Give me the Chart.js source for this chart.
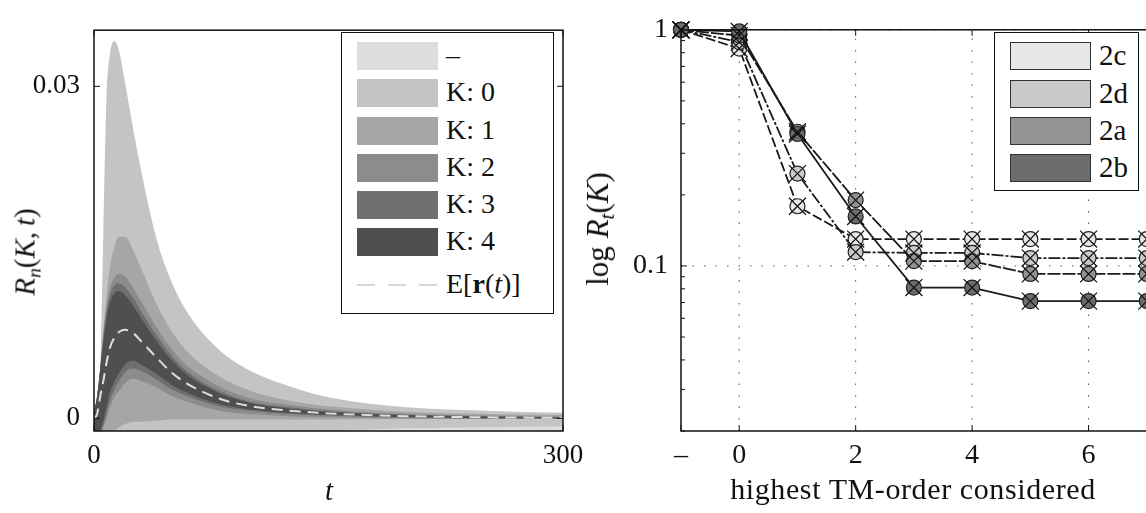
<!DOCTYPE html>
<html>
<head>
<meta charset="utf-8">
<script src="https://cdn.jsdelivr.net/npm/chart.js@4.4.0/dist/chart.umd.min.js"></script>
<style>
html, body { margin: 0; padding: 0; background: #fff; overflow: hidden; width: 1146px; height: 513px; }
body { position: relative; font-family: 'Liberation Serif', serif; color: #111; }
canvas { position: absolute; top: 0; }
#left { left: 0; }
#right { left: 580px; }
.legend { position: absolute; background: #fff; border: 1.5px solid #111; box-sizing: border-box; z-index: 5; }
.sw { position: absolute; height: 28px; box-sizing: border-box; }
.lab { position: absolute; height: 32px; line-height: 32px; font-size: 27px; white-space: nowrap; }
.title { position: absolute; white-space: nowrap; font-size: 27px; transform: translate(-50%, -50%); z-index: 5; }
.rot { transform: translate(-50%, -50%) rotate(-90deg); }
sub { font-size: 0.68em; vertical-align: -0.28em; line-height: 0; }
</style>
</head>
<body>
<canvas id="left" width="600" height="513"></canvas>
<canvas id="right" width="650" height="513"></canvas>

<div class="title rot" style="left:25px; top:252px; font-size:29px;"><i>R</i><sub><i>n</i></sub>(<i>K</i>,&thinsp;<i>t</i>)</div>
<div class="title" style="left:329px; top:490px; font-size:29px;"><i>t</i></div>
<div class="title rot" style="left:598px; top:229px; font-size:31px;">log <i>R</i><sub><i>t</i></sub>(<i>K</i>)</div>
<div class="title" style="left:913px; top:489px; font-size:30px; letter-spacing:0.6px;">highest TM-order considered</div>

<div id="legLeft" class="legend" style="left:341px; top:32px; width:213px; height:282px;"></div>
<div id="legRight" class="legend" style="left:994px; top:32px; width:145px; height:159px;"></div>

<script>
// ---- left panel: R_n(K,t) bands ----
const tValues = [0, 2, 4, 6, 8, 10, 13, 16, 20, 25, 30, 40, 50, 60, 80, 100, 125, 150, 200, 250, 300];
const meanR  = [0, 0.0004, 0.0020, 0.0034, 0.0050, 0.0063, 0.0073, 0.0078, 0.0080, 0.0077, 0.0070, 0.0055, 0.0041, 0.0031, 0.0018, 0.0011, 0.0007, 0.00045, 0.0002, 0.0001, 0.00005];
const outerTop = [0.0006, 0.0020, 0.0045, 0.0170, 0.0290, 0.0327, 0.0341, 0.0332, 0.0302, 0.0262, 0.0225, 0.0162, 0.0122, 0.0095, 0.0062, 0.0043, 0.0029, 0.0019, 0.0010, 0.0007, 0.0005];
const k1Top  = [0.0006, 0.0020, 0.0045, 0.0080, 0.0110, 0.0135, 0.0155, 0.0164, 0.0164, 0.0152, 0.0136, 0.0103, 0.0078, 0.0060, 0.0038, 0.0025, 0.0016, 0.0011, 0.0006, 0.0004, 0.0003];
const k2Top  = [0.0006, 0.0020, 0.0045, 0.0076, 0.0101, 0.0117, 0.0127, 0.0131, 0.0128, 0.0118, 0.0106, 0.0082, 0.0062, 0.0047, 0.0029, 0.0018, 0.0012, 0.0008, 0.0004, 0.00025, 0.00015];
const k3Top  = [0.0006, 0.0020, 0.0045, 0.0074, 0.0096, 0.0111, 0.0120, 0.0122, 0.0118, 0.0109, 0.0097, 0.0075, 0.0056, 0.0042, 0.0025, 0.0015, 0.0010, 0.00065, 0.00033, 0.0002, 0.00011];
const k4Top  = [0.0006, 0.0020, 0.0045, 0.0070, 0.0090, 0.0104, 0.0113, 0.0115, 0.0111, 0.0102, 0.0091, 0.0070, 0.0052, 0.0039, 0.0023, 0.0014, 0.0009, 0.0006, 0.0003, 0.00018, 0.0001];
const k4Bot  = [-0.003, -0.003, -0.0012, -0.0002, 0.0010, 0.0022, 0.0033, 0.0041, 0.0049, 0.0052, 0.0049, 0.0040, 0.0030, 0.0023, 0.0013, 0.0008, 0.0005, 0.0003, 0.0001, 0.00002, 0];
const k3Bot  = [-0.003, -0.003, -0.0015, -0.0006, 0.0004, 0.0015, 0.0026, 0.0034, 0.0042, 0.0045, 0.0043, 0.0035, 0.0026, 0.0020, 0.0011, 0.0007, 0.0004, 0.00025, 0.00007, 0, -0.00001];
const k2Bot  = [-0.003, -0.003, -0.002, -0.0008, -0.0001, 0.0009, 0.0019, 0.0025, 0.0032, 0.0036, 0.0034, 0.0028, 0.0020, 0.0015, 0.0007, 0.0004, 0.0002, 0.0001, 0, -0.00005, -0.00005];
const k1Bot  = [-0.003, -0.003, -0.003, -0.002, -0.0016, -0.0013, -0.0011, -0.0008, -0.0005, -0.0003, -0.0003, -0.0002, -0.0001, -0.0001, -0.0001, -0.0001, -0.0001, -0.0001, -0.00005, -0.00005, -0.00005];
const outerBot = [-0.003, -0.003, -0.003, -0.003, -0.003, -0.003, -0.003, -0.003, -0.003, -0.003, -0.003, -0.003, -0.003, -0.003, -0.0025, -0.002, -0.0015, -0.0012, -0.0009, -0.0008, -0.0007];
const leftXTicks = [0, 300];
const leftYTicks = [0, 0.03];
const bandNames  = ['–', 'K: 0', 'K: 1', 'K: 2', 'K: 3', 'K: 4'];
const bandColors = ['#dcdddf', '#c3c4c6', '#a5a6a8', '#8b8c8e', '#6e6f71', '#4e4f51'];

// ---- right panel: log R_t(K) ----
const orders = [-1, 0, 1, 2, 3, 4, 5, 6, 7];
const s2c = [1, 0.833, 0.179, 0.130, 0.130, 0.130, 0.130, 0.130, 0.130];
const s2d = [1, 0.887, 0.246, 0.1145, 0.1135, 0.1135, 0.108, 0.108, 0.108];
const s2a = [1, 0.945, 0.370, 0.190, 0.1048, 0.1048, 0.0925, 0.0925, 0.0925];
const s2b = [1, 0.984, 0.362, 0.162, 0.081, 0.081, 0.071, 0.071, 0.071];
const seriesNames  = ['2c', '2d', '2a', '2b'];
const seriesColors = ['#e6e7e7', '#c8c9ca', '#929395', '#6b6c6e'];
const rightXTicks = [-1, 0, 2, 4, 6, 8];
const rightYTicks = [0.02, 0.03, 0.04, 0.05, 0.06, 0.07, 0.08, 0.09, 0.1, 0.2, 0.3, 0.4, 0.5, 0.6, 0.7, 0.8, 0.9, 1];
const rightYLabels = [0.1, 1];

Chart.defaults.font.family = "'Liberation Serif', serif";
Chart.defaults.color = '#111';

function pts(ys) { return tValues.map((t, i) => ({ x: t, y: ys[i] })); }

function line(ctx, x1, y1, x2, y2) {
    ctx.beginPath(); ctx.moveTo(x1, y1); ctx.lineTo(x2, y2); ctx.stroke();
}

// box round the plot, little ticks pointing in, dotted grid for major ticks
const frame = {
    id: 'frame',
    beforeDatasetsDraw(chart, args, opts) {
        if (!opts.grid) return;
        const { ctx, chartArea: a, scales } = chart;
        ctx.save();
        ctx.strokeStyle = '#555';
        ctx.lineWidth = 1;
        ctx.setLineDash([1.5, 10]);
        opts.grid.x.forEach(v => { const px = scales.x.getPixelForValue(v); line(ctx, px, a.bottom, px, a.top); });
        opts.grid.y.forEach(v => { const py = scales.y.getPixelForValue(v); line(ctx, a.left, py, a.right, py); });
        ctx.restore();
    },
    afterDraw(chart, args, opts) {
        const { ctx, chartArea: a, scales } = chart;
        ctx.save();
        ctx.strokeStyle = '#111';
        ctx.lineWidth = 1.5;
        ctx.strokeRect(a.left, a.top, a.right - a.left, a.bottom - a.top);
        ctx.lineWidth = 1;
        scales.x.ticks.forEach(t => {
            const px = scales.x.getPixelForValue(t.value);
            line(ctx, px, a.bottom, px, a.bottom - 6);
            line(ctx, px, a.top, px, a.top + 6);
        });
        scales.y.ticks.forEach(t => {
            const py = scales.y.getPixelForValue(t.value);
            const len = (opts.major && !opts.major.includes(t.value)) ? 4 : 6;
            line(ctx, a.left, py, a.left + len, py);
            line(ctx, a.right, py, a.right - len, py);
        });
        ctx.restore();
    }
};

// painter's order: each layer fills down to the axis start, later layers on top
const layers = [
    { data: outerTop, color: bandColors[1] },
    { data: k1Top, color: bandColors[2] },
    { data: k2Top, color: bandColors[3] },
    { data: k3Top, color: bandColors[4] },
    { data: k4Top, color: bandColors[5] },
    { data: k4Bot, color: bandColors[4] },
    { data: k3Bot, color: bandColors[3] },
    { data: k2Bot, color: bandColors[2] },
    { data: k1Bot, color: bandColors[1] },
    { data: outerBot, color: bandColors[0] },
];

const leftSets = layers.map((l, i) => ({
    data: pts(l.data),
    backgroundColor: l.color,
    borderWidth: 0,
    pointRadius: 0,
    fill: 'start',
    cubicInterpolationMode: 'monotone',
    order: 20 - i
}));
leftSets.push({
    label: 'E[r(t)]',
    data: pts(meanR),
    borderColor: '#dedede',
    borderWidth: 2,
    borderDash: [11, 7],
    pointRadius: 0,
    fill: false,
    cubicInterpolationMode: 'monotone',
    order: 0
});

new Chart(document.getElementById('left'), {
    type: 'line',
    data: { datasets: leftSets },
    plugins: [frame],
    options: {
        responsive: false,
        animation: false,
        layout: { padding: { top: 17, right: 37, left: 0, bottom: 0 } },
        plugins: { legend: { display: false }, tooltip: { enabled: false }, frame: {} },
        scales: {
            x: {
                type: 'linear', min: 0, max: 300,
                afterBuildTicks: s => { s.ticks = leftXTicks.map(v => ({ value: v })); },
                afterFit: s => { s.height = 82; },
                grid: { display: false, drawTicks: false },
                border: { display: false },
                ticks: { font: { size: 27 }, padding: 9, maxRotation: 0, autoSkip: false, callback: v => String(v) }
            },
            y: {
                type: 'linear', min: -0.00114, max: 0.03507,
                afterBuildTicks: s => { s.ticks = leftYTicks.map(v => ({ value: v })); },
                afterFit: s => { s.width = 94; },
                grid: { display: false, drawTicks: false },
                border: { display: false },
                ticks: { font: { size: 27 }, padding: 14, autoSkip: false, callback: v => String(v) }
            }
        }
    }
});

// right chart
const seriesData = [s2c, s2d, s2a, s2b];
const dashes = [[10, 3], [12, 2, 3, 2], [13, 2], []];
const rightSets = [];
seriesData.forEach((ys, i) => {
    const p = orders.map((o, j) => ({ x: o, y: ys[j] }));
    rightSets.push({
        label: seriesNames[i],
        data: p,
        borderColor: '#1a1a1a',
        borderWidth: 1.8,
        borderDash: dashes[i],
        pointRadius: 7.5,
        pointBackgroundColor: seriesColors[i],
        pointBorderColor: '#222',
        pointBorderWidth: 1.2,
        clip: false,
        order: 10 - i
    });
    rightSets.push({
        data: p,
        showLine: false,
        pointStyle: 'crossRot',
        pointRadius: 12,
        pointBorderColor: '#111',
        pointBorderWidth: 1.2,
        clip: false,
        order: 5 - i
    });
});

new Chart(document.getElementById('right'), {
    type: 'line',
    data: { datasets: rightSets },
    plugins: [frame],
    options: {
        responsive: false,
        animation: false,
        layout: { padding: { top: 17, right: 25, left: 0, bottom: 0 } },
        plugins: {
            legend: { display: false }, tooltip: { enabled: false },
            frame: { grid: { x: [0, 2, 4, 6], y: rightYLabels }, major: rightYLabels }
        },
        scales: {
            x: {
                type: 'linear', min: -1, max: 8,
                afterBuildTicks: s => { s.ticks = rightXTicks.map(v => ({ value: v })); },
                afterFit: s => { s.height = 82; },
                grid: { display: false, drawTicks: false },
                border: { display: false },
                ticks: { font: { size: 28 }, padding: 8, maxRotation: 0, autoSkip: false, callback: v => v === -1 ? '–' : String(v) }
            },
            y: {
                type: 'logarithmic', min: 0.02, max: 1,
                afterBuildTicks: s => { s.ticks = rightYTicks.map(v => ({ value: v })); },
                afterFit: s => { s.width = 101; },
                grid: { display: false, drawTicks: false },
                border: { display: false },
                ticks: { font: { size: 28 }, padding: 13, autoSkip: false, callback: v => rightYLabels.includes(v) ? String(v) : '' }
            }
        }
    }
});

// legends as html
function buildLegend(el, items, opt) {
    items.forEach((it, i) => {
        const c = opt.centers[i];
        if (it.dash) {
            const sw = document.createElement('div');
            sw.className = 'sw';
            sw.style.cssText = `left:${opt.swLeft}px; top:${c - 1}px; width:${opt.swWidth}px; height:2px; background: repeating-linear-gradient(90deg, ${it.dash} 0 18px, transparent 18px 31px);`;
            el.appendChild(sw);
        } else {
            const sw = document.createElement('div');
            sw.className = 'sw';
            sw.style.cssText = `left:${opt.swLeft}px; top:${c - 14}px; width:${opt.swWidth}px; background:${it.color};` + (opt.border ? 'border:1.3px solid #333;' : '');
            el.appendChild(sw);
        }
        const lb = document.createElement('div');
        lb.className = 'lab';
        lb.style.cssText = `left:${opt.textLeft}px; top:${c - 17}px; font-size:${opt.size}px;`;
        lb.innerHTML = it.html;
        el.appendChild(lb);
    });
}

const leftItems = bandNames.map((n, i) => ({ html: n, color: bandColors[i] }));
leftItems.push({ html: 'E[<b>r</b>(<i>t</i>)]', dash: '#d8d8d8' });
buildLegend(document.getElementById('legLeft'), leftItems,
    { centers: [23, 60.4, 97.7, 135, 172, 209.4, 252], swLeft: 15, swWidth: 81, textLeft: 104, size: 28, border: false });

buildLegend(document.getElementById('legRight'), seriesNames.map((n, i) => ({ html: n, color: seriesColors[i] })),
    { centers: [23, 60.5, 98, 135.3], swLeft: 15, swWidth: 81, textLeft: 104, size: 29, border: true });
</script>
</body>
</html>
